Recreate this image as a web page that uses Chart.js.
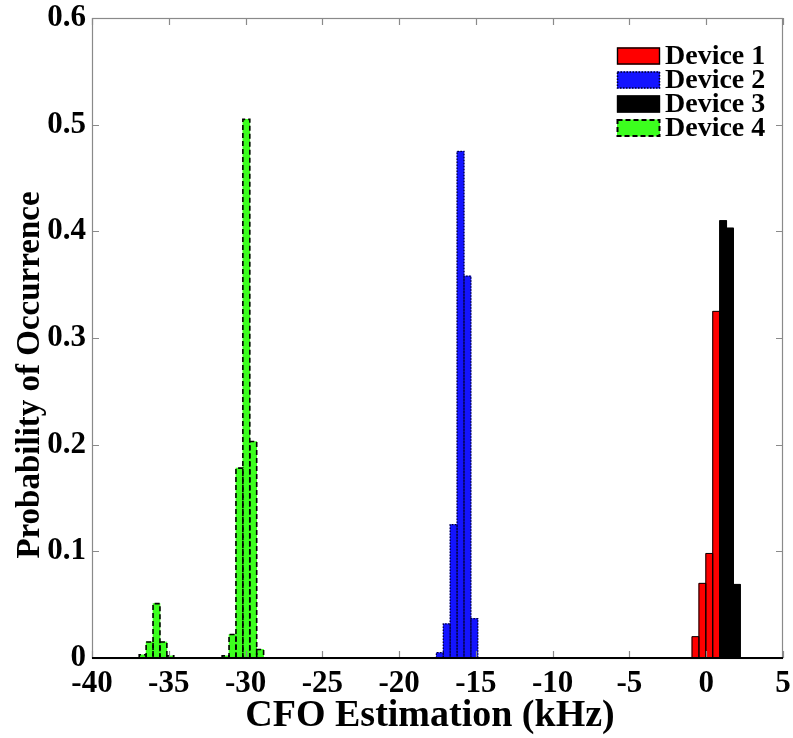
<!DOCTYPE html>
<html>
<head>
<meta charset="utf-8">
<title>CFO Estimation Histogram</title>
<script src="https://cdn.jsdelivr.net/npm/chart.js@4.4.1/dist/chart.umd.min.js"></script>
<style>
  html, body { margin: 0; padding: 0; background: #ffffff; }
  #wrap { width: 793px; height: 738px; }
</style>
</head>
<body>
<div id="wrap"><canvas id="cfo" width="793" height="738"></canvas></div>
<script>
// Histogram bin centres (kHz) and probability of occurrence per device
const device1Cfo  = [-0.7, -0.25, 0.2, 0.65];
const device1Prob = [0.02, 0.07, 0.098, 0.325];

const device2Cfo  = [-17.35, -16.9, -16.45, -16.0, -15.55, -15.1];
const device2Prob = [0.005, 0.032, 0.125, 0.475, 0.358, 0.037];

const device3Cfo  = [1.1, 1.55, 2.0];
const device3Prob = [0.41, 0.403, 0.069];

const device4Cfo  = [-36.7, -36.25, -35.8, -35.35, -34.9, -31.3, -30.85, -30.4, -29.95, -29.5, -29.05];
const device4Prob = [0.003, 0.015, 0.051, 0.015, 0.002, 0.002, 0.022, 0.178, 0.505, 0.203, 0.008];

const deviceNames = ['Device 1', 'Device 2', 'Device 3', 'Device 4'];

// Axis ticks
const xTickValues = [-40, -35, -30, -25, -20, -15, -10, -5, 0, 5];
const xTickLabels = ['-40', '-35', '-30', '-25', '-20', '-15', '-10', '-5', '0', '5'];
const yTickValues = [0, 0.1, 0.2, 0.3, 0.4, 0.5, 0.6];
const yTickLabels = ['0', '0.1', '0.2', '0.3', '0.4', '0.5', '0.6'];

const xTitle = 'CFO Estimation (kHz)';
const yTitle = 'Probability of Occurrence';

const SERIF = '"Liberation Serif", "Times New Roman", serif';

function toPoints(xs, ys) {
  return xs.map((x, i) => ({ x: x, y: ys[i] }));
}

// Edge styles per device: solid, dotted, solid, dashed
const edgeStyles = [
  { color: '#000000', dash: [],     width: 1 },
  { color: '#00002a', dash: [1.5, 1.5], width: 1.2 },
  { color: '#000000', dash: [],     width: 1 },
  { color: '#000000', dash: [5, 3], width: 1.6 }
];
const fillColors = ['#ff0000', '#1414ff', '#000000', '#3cff1e'];

// Strokes each bar outline with its device's edge pattern
const barEdges = {
  id: 'barEdges',
  afterDatasetsDraw(chart) {
    const ctx = chart.ctx;
    const area = chart.chartArea;
    ctx.save();
    ctx.beginPath();
    ctx.rect(area.left, area.top, area.right - area.left, area.bottom - area.top);
    ctx.clip();
    for (let d = chart.data.datasets.length - 1; d >= 0; d--) {
      const meta = chart.getDatasetMeta(d);
      const st = edgeStyles[d];
      ctx.strokeStyle = st.color;
      ctx.lineWidth = st.width;
      ctx.setLineDash(st.dash);
      meta.data.forEach(el => {
        const p = el.getProps(['x', 'y', 'base', 'width'], true);
        const l = p.x - p.width / 2, r = p.x + p.width / 2;
        ctx.beginPath();
        ctx.moveTo(l, p.base);
        ctx.lineTo(l, p.y);
        ctx.lineTo(r, p.y);
        ctx.lineTo(r, p.base);
        ctx.stroke();
      });
    }
    ctx.restore();
  }
};

// Box frame, inward tick marks, axis titles and legend
const frameAndLegend = {
  id: 'frameAndLegend',
  afterDraw(chart) {
    const ctx = chart.ctx;
    const a = chart.chartArea;
    const xs = chart.scales.x, ys = chart.scales.y;
    ctx.save();
    ctx.setLineDash([]);

    // box
    ctx.strokeStyle = '#8a8a8a';
    ctx.lineWidth = 1.2;
    ctx.strokeRect(a.left + 0.5, a.top + 0.5, a.right - a.left - 1, a.bottom - a.top);

    // inward ticks
    const tl = 7;
    ctx.beginPath();
    xTickValues.forEach(v => {
      const px = Math.round(xs.getPixelForValue(v)) + 0.5;
      ctx.moveTo(px, a.bottom); ctx.lineTo(px, a.bottom - tl);
      ctx.moveTo(px, a.top);    ctx.lineTo(px, a.top + tl);
    });
    yTickValues.forEach(v => {
      const py = Math.round(ys.getPixelForValue(v)) + 0.5;
      ctx.moveTo(a.left, py);  ctx.lineTo(a.left + tl, py);
      ctx.moveTo(a.right, py); ctx.lineTo(a.right - tl, py);
    });
    ctx.stroke();

    // baseline
    ctx.strokeStyle = '#000000';
    ctx.lineWidth = 2;
    ctx.beginPath();
    ctx.moveTo(a.left, a.bottom);
    ctx.lineTo(a.right, a.bottom);
    ctx.stroke();

    // axis titles
    ctx.fillStyle = '#000000';
    ctx.textAlign = 'center';
    ctx.textBaseline = 'middle';
    ctx.font = 'bold 38px ' + SERIF;
    ctx.fillText(xTitle, 430, 716);
    ctx.save();
    ctx.translate(30, 375);
    ctx.rotate(-Math.PI / 2);
    ctx.font = 'bold 33px ' + SERIF;
    ctx.fillText(yTitle, 0, 0);
    ctx.restore();

    // legend
    const sx = 617, sw = 43, sh = 17, tx = 665;
    const rowY = [56, 80, 104, 128];
    ctx.font = 'bold 28px ' + SERIF;
    ctx.textAlign = 'left';
    deviceNames.forEach((name, i) => {
      const cy = rowY[i];
      const top = cy - sh / 2;
      ctx.fillStyle = fillColors[i];
      ctx.fillRect(sx, top, sw, sh);
      const st = edgeStyles[i];
      ctx.strokeStyle = st.color;
      ctx.lineWidth = st.width + 0.4;
      ctx.setLineDash(st.dash);
      ctx.strokeRect(sx + 0.5, top + 0.5, sw - 1, sh - 1);
      ctx.setLineDash([]);
      ctx.fillStyle = '#000000';
      ctx.fillText(name, tx, cy + 1);
    });
    ctx.restore();
  }
};

const seriesX = [device1Cfo, device2Cfo, device3Cfo, device4Cfo];
const seriesY = [device1Prob, device2Prob, device3Prob, device4Prob];

const datasets = deviceNames.map((name, i) => ({
  label: name,
  data: toPoints(seriesX[i], seriesY[i]),
  backgroundColor: fillColors[i],
  borderWidth: 0,
  barPercentage: 1.0,
  categoryPercentage: 1.0
}));

new Chart(document.getElementById('cfo'), {
  type: 'bar',
  data: { datasets: datasets },
  plugins: [barEdges, frameAndLegend],
  options: {
    responsive: false,
    animation: false,
    devicePixelRatio: 1,
    grouped: false,
    layout: { padding: { top: 18, right: 10, left: 0, bottom: 0 } },
    plugins: {
      legend: { display: false },
      tooltip: { enabled: false }
    },
    scales: {
      x: {
        type: 'linear',
        offset: false,
        min: -40,
        max: 5,
        afterBuildTicks(scale) { scale.ticks = xTickValues.map(v => ({ value: v })); },
        afterFit(scale) {
          scale.height = 80;
          scale.paddingLeft = 0;
          scale.paddingRight = 0;
        },
        grid: { display: false, drawTicks: false, offset: false },
        border: { display: false },
        ticks: {
          padding: 7,
          maxRotation: 0,
          autoSkip: false,
          color: '#000000',
          font: { family: SERIF, size: 31, weight: 'bold' },
          callback(value) {
            const i = xTickValues.indexOf(value);
            return i >= 0 ? xTickLabels[i] : '';
          }
        }
      },
      y: {
        type: 'linear',
        min: 0,
        max: 0.6,
        afterBuildTicks(scale) { scale.ticks = yTickValues.map(v => ({ value: v })); },
        afterFit(scale) {
          scale.width = 92;
          scale.paddingTop = 0;
          scale.paddingBottom = 0;
        },
        grid: { display: false, drawTicks: false },
        border: { display: false },
        ticks: {
          padding: 6,
          autoSkip: false,
          color: '#000000',
          font: { family: SERIF, size: 31, weight: 'bold' },
          callback(value) {
            const i = yTickValues.findIndex(v => Math.abs(v - value) < 1e-9);
            return i >= 0 ? yTickLabels[i] : '';
          }
        }
      }
    }
  }
});
</script>
</body>
</html>
